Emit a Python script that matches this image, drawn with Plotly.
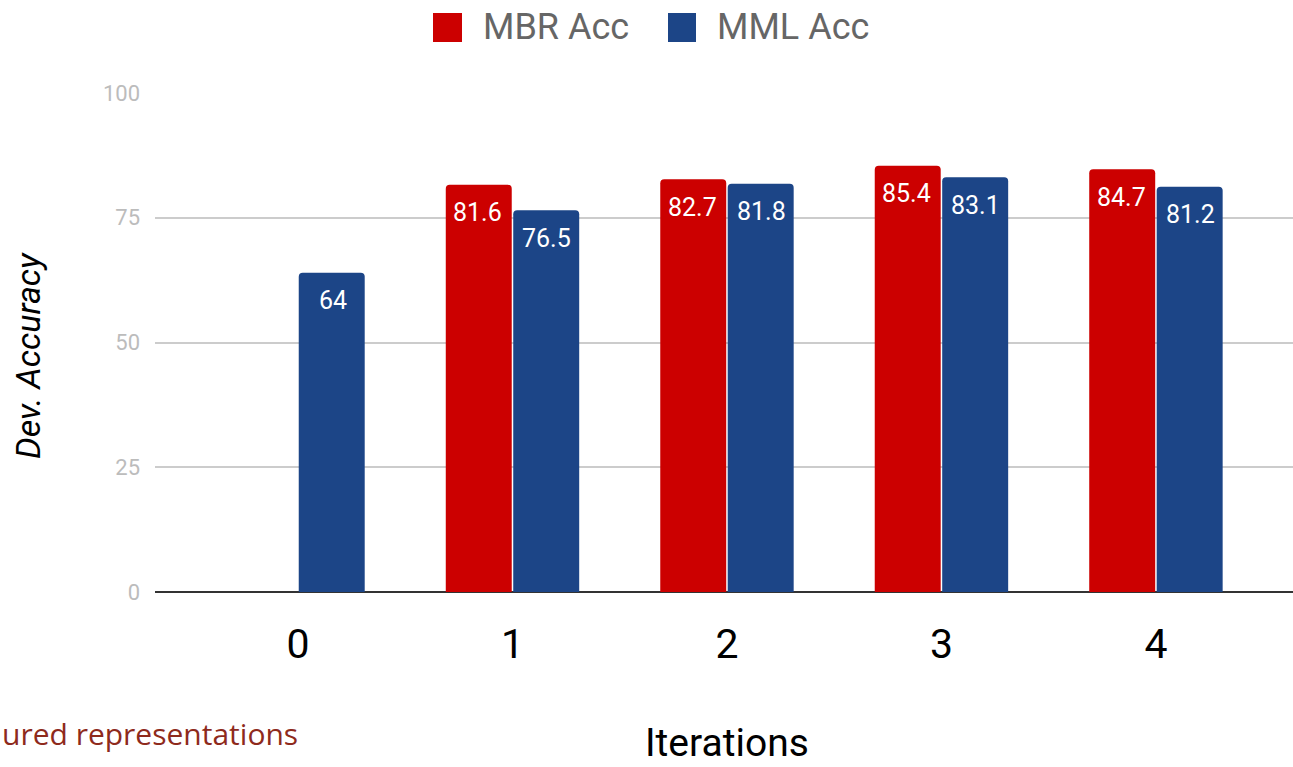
import plotly.graph_objects as go

# Data
iterations = [0, 1, 2, 3, 4]
tick_labels = ["0", "1", "2", "3", "4"]
mbr_acc = [None, 81.6, 82.7, 85.4, 84.7]
mml_acc = [64, 76.5, 81.8, 83.1, 81.2]

RED = "#cc0000"
BLUE = "#1c4587"
FONT = "Roboto"

W, H = 1293, 767
M_L, M_R, M_T, M_B = 155, 0, 93, 175
PW = W - M_L - M_R
PH = H - M_T - M_B


def px_x(px):
    return (px - M_L) / PW


def px_y(py):
    return (H - M_B - py) / PH


fig = go.Figure()
fig.add_trace(go.Bar(x=iterations, y=mbr_acc, name="MBR Acc",
                     marker=dict(color=RED, line=dict(width=0)), showlegend=False))
fig.add_trace(go.Bar(x=iterations, y=mml_acc, name="MML Acc",
                     marker=dict(color=BLUE, line=dict(width=0)), showlegend=False))

annotations = []
# value labels inside the top of each bar
for series, shift in ((mbr_acc, -34.5), (mml_acc, 34.5)):
    for xi, v in zip(iterations, series):
        if v is None:
            continue
        annotations.append(dict(
            x=xi, y=v, xref="x", yref="y", text=f"{v:g}", showarrow=False,
            xshift=shift, yshift=-28, yanchor="middle", xanchor="center",
            font=dict(family=FONT, size=25, color="white")))

# legend drawn as squares + labels above the plot
shapes = []
for x0, x1, color, label, tx in ((433, 462, RED, "MBR Acc", 481),
                                  (668, 696, BLUE, "MML Acc", 715)):
    shapes.append(dict(type="rect", xref="paper", yref="paper",
                       x0=px_x(x0), x1=px_x(x1), y0=px_y(42), y1=px_y(13),
                       fillcolor=color, line=dict(width=0), layer="above"))
    annotations.append(dict(x=px_x(tx), y=px_y(27), xref="paper", yref="paper",
                            text=label, showarrow=False, xanchor="left", yanchor="middle",
                            font=dict(family=FONT, size=36, color="#666666")))

# axis titles
annotations.append(dict(x=px_x(28), y=px_y(356), xref="paper", yref="paper",
                        text="<i>Dev. Accuracy</i>", textangle=-90, showarrow=False,
                        xanchor="center", yanchor="middle",
                        font=dict(family=FONT, size=34, color="#000000")))
annotations.append(dict(x=px_x(727), y=px_y(743), xref="paper", yref="paper",
                        text="Iterations", showarrow=False,
                        xanchor="center", yanchor="middle",
                        font=dict(family=FONT, size=39, color="#000000")))
annotations.append(dict(x=px_x(0), y=px_y(733), xref="paper", yref="paper",
                        text="ured representations", showarrow=False,
                        xanchor="left", yanchor="middle",
                        font=dict(family="Open Sans", size=30, color="#8e2a1c")))

fig.update_layout(
    width=W, height=H,
    margin=dict(l=M_L, r=M_R, t=M_T, b=M_B, pad=0),
    paper_bgcolor="white", plot_bgcolor="white",
    barmode="group", bargap=0.371, bargroupgap=0.022, barcornerradius=4,
    xaxis=dict(range=[-0.6667, 4.639], tickvals=iterations, ticktext=tick_labels,
               showgrid=False, zeroline=False, showline=False, ticks="",
               ticklabelstandoff=24,
               tickfont=dict(family=FONT, size=41, color="#000000")),
    yaxis=dict(range=[0, 100], tickvals=[0, 25, 50, 75, 100],
               showgrid=True, gridcolor="#cccccc", gridwidth=1.5,
               zeroline=True, zerolinecolor="#333333", zerolinewidth=2,
               showline=False, ticks="", ticklabelstandoff=14,
               tickfont=dict(family=FONT, size=22, color="#bcbcbc")),
    shapes=shapes,
    annotations=annotations,
    showlegend=False,
)

fig.write_html("out.html")
